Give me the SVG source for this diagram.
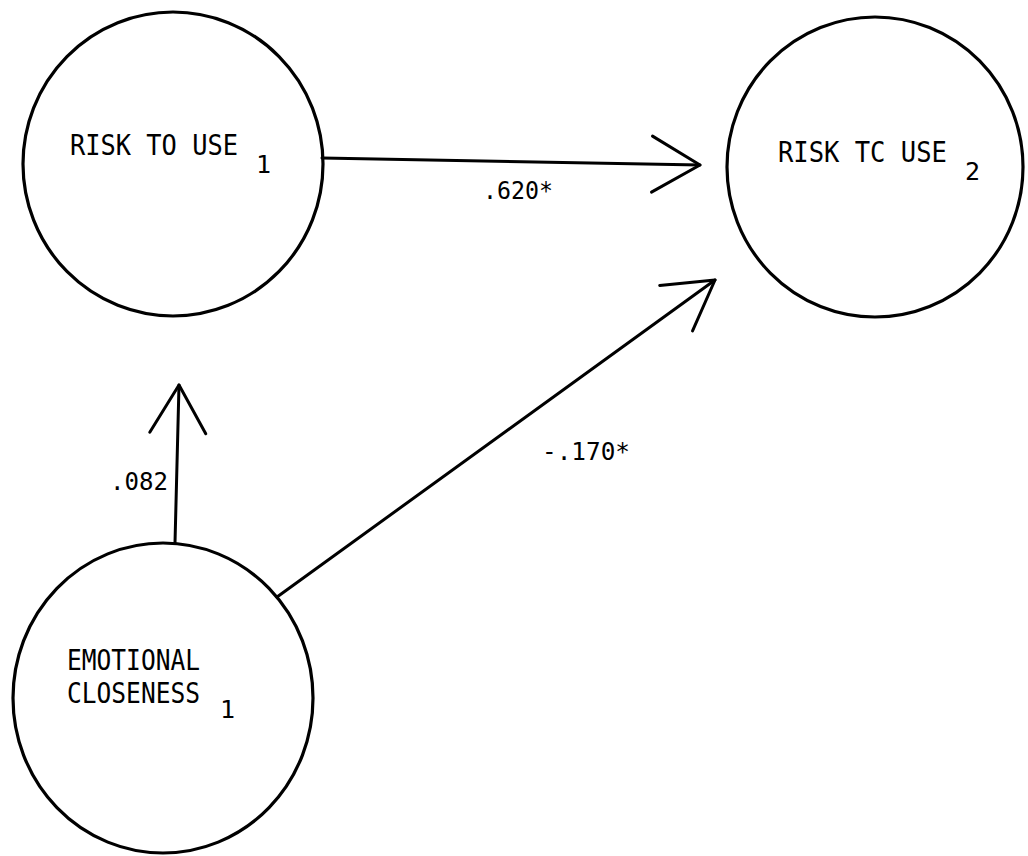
<svg xmlns="http://www.w3.org/2000/svg" width="1028" height="856" viewBox="0 0 1028 856">
  <style>
    .node { fill: none; stroke: #000; stroke-width: 3.2; }
    .edge { fill: none; stroke: #000; stroke-width: 3; stroke-linecap: round; }
    .label { font-family: "DejaVu Sans Mono", "Liberation Mono", monospace; font-size: 29px; fill: #000; }
    .sub { font-family: "DejaVu Sans Mono", "Liberation Mono", monospace; font-size: 25px; fill: #000; }
    .coef { font-family: "DejaVu Sans Mono", "Liberation Mono", monospace; font-size: 25px; fill: #000; }
  </style>
  <defs>
    <marker id="openArrow" markerUnits="userSpaceOnUse" markerWidth="80" markerHeight="80" refX="0" refY="0" viewBox="-60 -40 80 80" orient="auto" overflow="visible">
      <path d="M -48,-28 L 0,0 L -48,28" fill="none" stroke="#000" stroke-width="3" stroke-linecap="round" stroke-linejoin="round"/>
    </marker>
  </defs>
  <rect width="1028" height="856" fill="#fff"/>

  <g id="connectors">
    <line class="edge" x1="322" y1="158" x2="700" y2="165" marker-end="url(#openArrow)"/>
    <line class="edge" x1="175" y1="543" x2="179" y2="385" marker-end="url(#openArrow)"/>
    <line class="edge" x1="277" y1="597" x2="715" y2="280" marker-end="url(#openArrow)"/>
    <text class="coef" x="483" y="199" textLength="70" lengthAdjust="spacingAndGlyphs">.620*</text>
    <text class="coef" x="110" y="490" textLength="58" lengthAdjust="spacingAndGlyphs">.082</text>
    <text class="coef" x="542" y="460" textLength="88" lengthAdjust="spacingAndGlyphs">-.170*</text>
  </g>

  <g id="risk-to-use-1">
    <ellipse class="node" cx="173" cy="164" rx="150" ry="152"/>
    <text class="label" transform="translate(70 155) scale(0.875 1)">RISK TO USE</text>
    <text class="sub" x="256" y="173">1</text>
  </g>

  <g id="risk-to-use-2">
    <ellipse class="node" cx="875" cy="167" rx="148" ry="150"/>
    <text class="label" transform="translate(778 162) scale(0.88 1)">RISK TC USE</text>
    <text class="sub" x="965" y="180">2</text>
  </g>

  <g id="emotional-closeness-1">
    <ellipse class="node" cx="163" cy="698" rx="150" ry="155"/>
    <text class="label" transform="translate(67 670) scale(0.847 1)">EMOTIONAL</text>
    <text class="label" transform="translate(67 703) scale(0.847 1)">CLOSENESS</text>
    <text class="sub" x="220" y="718">1</text>
  </g>
</svg>
